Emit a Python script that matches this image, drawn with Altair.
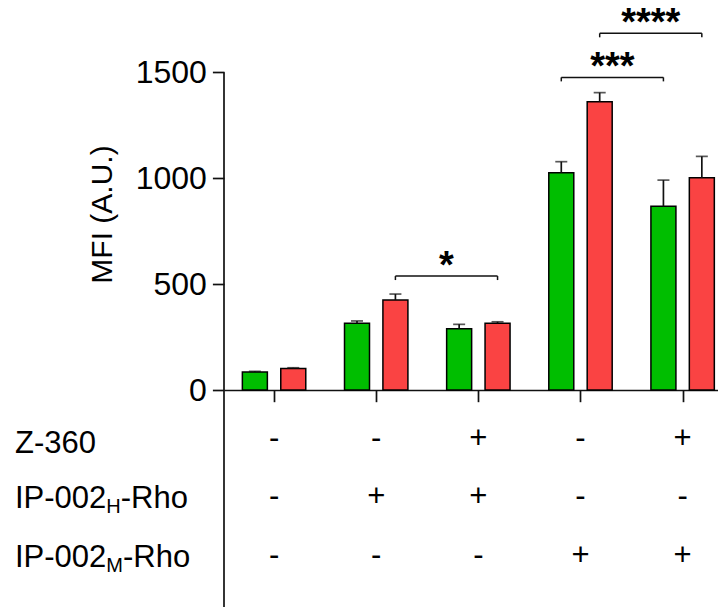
import altair as alt
import pandas as pd

# ---------------- data ----------------
group_idx = [0, 1, 2, 3, 4]
green_vals = [85, 315, 289, 1026, 867]
green_err = [3, 11, 21, 52, 124]
red_vals = [102, 425, 315, 1361, 1002]
red_err = [3, 28, 7, 43, 101]

z360_signs = ["-", "-", "+", "-", "+"]
iph_signs = ["-", "+", "+", "-", "-"]
ipm_signs = ["-", "-", "-", "+", "+"]

row_main = ["Z-360", "IP-002", "IP-002"]
row_sub = ["", "H", "M"]
row_tail = ["", "-Rho", "-Rho"]

y_tick_values = [0, 500, 1000, 1500]
y_title = "MFI (A.U.)"

sig_labels = ["*", "***", "****"]
sig_from_group = [1, 3, 3]
sig_to_group = [2, 4, 4]
sig_series = ["red", "green", "red"]
sig_level = [538, 1476, 1684]

# ---------------- layout / style ----------------
FONT = "Liberation Sans"
W, H, PAD_L = 494, 599, 216
Y0 = 382.0          # pixel row of value 0 inside the plot
PXU = 0.2118        # pixels per data unit
y_hi = Y0 / PXU
y_lo = -(H - Y0) / PXU
STEP = 104.25       # pixels between groups
X0 = 46.0           # pixel of first group centre inside the plot
x_lo = -X0 / STEP
x_hi = x_lo + W / STEP
OFF = 19.6 / STEP
SER_OFF = {"green": -OFF, "red": OFF}
GREEN, RED = "#00BE00", "#FA4343"
INK = "#111111"
LW = 1.7
DROP = 4 / PXU
F_MAIN, F_SUB = 31, 20

# Arial / Liberation Sans advance widths (per 1000 em)
ADV = {"I": 278, "P": 667, "-": 333, "0": 556, "2": 556, "H": 722, "M": 833,
       "R": 722, "h": 556, "o": 556, "Z": 611, "3": 556, "6": 556}


def tw(s, size):
    return sum(ADV.get(c, 556) for c in s) * size / 1000.0


# ---------------- tables ----------------
rows = []
for g, v, e in zip(group_idx, green_vals, green_err):
    rows.append(dict(group=g, series="green", value=v, top=v + e, base=0,
                     pos=g + SER_OFF["green"]))
for g, v, e in zip(group_idx, red_vals, red_err):
    rows.append(dict(group=g, series="red", value=v, top=v + e, base=0,
                     pos=g + SER_OFF["red"]))
bars = pd.DataFrame(rows)

br = []
br_ends = []
for lab, a, b, s, lev in zip(sig_labels, sig_from_group, sig_to_group, sig_series, sig_level):
    x1 = a + SER_OFF[s]
    x2 = b + SER_OFF[s]
    br.append(dict(label=lab, x1=x1, x2=x2, xm=(x1 + x2) / 2, level=lev))
    for xe in (x1, x2):
        br_ends.append(dict(xe=xe, level=lev, low=lev - DROP))
brackets = pd.DataFrame(br)
bracket_ends = pd.DataFrame(br_ends)

SIGN_Y = [440.0, 498.4, 556.7]
LABEL_Y = [444.7, 500.3, 558.7]
sign_rows = []
for r, signs in enumerate([z360_signs, iph_signs, ipm_signs]):
    for g, s in zip(group_idx, signs):
        sign_rows.append(dict(pos=g, ypx=SIGN_Y[r], sign=s))
signs_df = pd.DataFrame(sign_rows)

LX = 15 - (PAD_L + 8)
main_rows, sub_rows = [], []
for r, (m, s, t) in enumerate(zip(row_main, row_sub, row_tail)):
    main_rows.append(dict(text=m, xpx=LX, ypx=LABEL_Y[r]))
    if s:
        xs = LX + tw(m, F_MAIN)
        sub_rows.append(dict(text=s, xpx=xs, ypx=LABEL_Y[r] + 5))
        main_rows.append(dict(text=t, xpx=xs + tw(s, F_SUB), ypx=LABEL_Y[r]))
main_df = pd.DataFrame(main_rows)
sub_df = pd.DataFrame(sub_rows)

# ---------------- encodings ----------------
xscale = alt.Scale(domain=[x_lo, x_hi], nice=False, zero=False)
yscale = alt.Scale(domain=[y_lo, y_hi], nice=False, zero=False)
xaxis = alt.Axis(values=group_idx, labels=False, tickSize=11.7, tickWidth=LW,
                 tickColor=INK, domainColor=INK, domainWidth=LW, grid=False,
                 title=None, offset=-(H - Y0))
yaxis = alt.Axis(values=y_tick_values, format="d", domain=False, grid=False, tickSize=11.6,
                 tickWidth=LW, tickColor=INK, labelFont=FONT, labelFontSize=32,
                 labelColor="black", labelPadding=6, title=y_title,
                 titleFont=FONT, titleFontSize=30, titleFontWeight="normal",
                 titleColor="black", titleAngle=270, titleX=-122, titleY=206,
                 titleAlign="center", titleBaseline="middle")


def X(f):
    return alt.X(f, type="quantitative", scale=xscale, axis=xaxis)


def Y(f):
    return alt.Y(f, type="quantitative", scale=yscale, axis=yaxis)


bar_layer = alt.Chart(bars).mark_bar(size=25, stroke="black", strokeWidth=1.5).encode(
    x=X("pos"), y=Y("value"), y2="base:Q",
    color=alt.Color("series:N", scale=alt.Scale(domain=["green", "red"], range=[GREEN, RED]),
                    legend=None))
err_line = alt.Chart(bars).mark_rule(color=INK, strokeWidth=LW).encode(
    x=X("pos"), y=Y("value"), y2="top:Q")
err_cap = alt.Chart(bars).mark_tick(orient="horizontal", size=12, thickness=LW, color=INK).encode(
    x=X("pos"), y=Y("top"))

yaxis_line = alt.Chart(pd.DataFrame({"top": [y_tick_values[-1]]})).mark_rule(
    color=INK, strokeWidth=LW).encode(x=alt.value(0), y=Y("top"), y2=alt.value(H))

br_h = alt.Chart(brackets).mark_rule(color=INK, strokeWidth=1.5).encode(
    x=X("x1"), x2="x2:Q", y=Y("level"))
br_v = alt.Chart(bracket_ends).mark_rule(color=INK, strokeWidth=1.5).encode(
    x=X("xe"), y=Y("level"), y2="low:Q")
stars = alt.Chart(brackets).mark_text(font=FONT, fontSize=38, fontWeight="bold",
                                      baseline="alphabetic", align="center", dy=2,
                                      color="black").encode(
    x=X("xm"), y=Y("level"), text="label:N")

sign_layer = alt.Chart(signs_df).mark_text(font=FONT, fontSize=F_MAIN, baseline="alphabetic",
                                           align="center", color="black").encode(
    x=X("pos"), y=alt.Y("ypx:Q", scale=None), text="sign:N")
label_main = alt.Chart(main_df).mark_text(font=FONT, fontSize=F_MAIN, baseline="alphabetic",
                                          align="left", color="black").encode(
    x=alt.X("xpx:Q", scale=None), y=alt.Y("ypx:Q", scale=None), text="text:N")
label_sub = alt.Chart(sub_df).mark_text(font=FONT, fontSize=F_SUB, baseline="alphabetic",
                                        align="left", color="black").encode(
    x=alt.X("xpx:Q", scale=None), y=alt.Y("ypx:Q", scale=None), text="text:N")

chart = alt.layer(
    bar_layer, err_line, err_cap, yaxis_line, br_h, br_v, stars,
    sign_layer, label_main, label_sub
).properties(
    width=W, height=H,
    padding={"left": PAD_L, "top": 0, "right": 0, "bottom": 0},
    autosize=alt.AutoSizeParams(type="none"),
).configure_view(stroke=None)

chart.save("out.html", embed_options={"renderer": "svg", "actions": False})
